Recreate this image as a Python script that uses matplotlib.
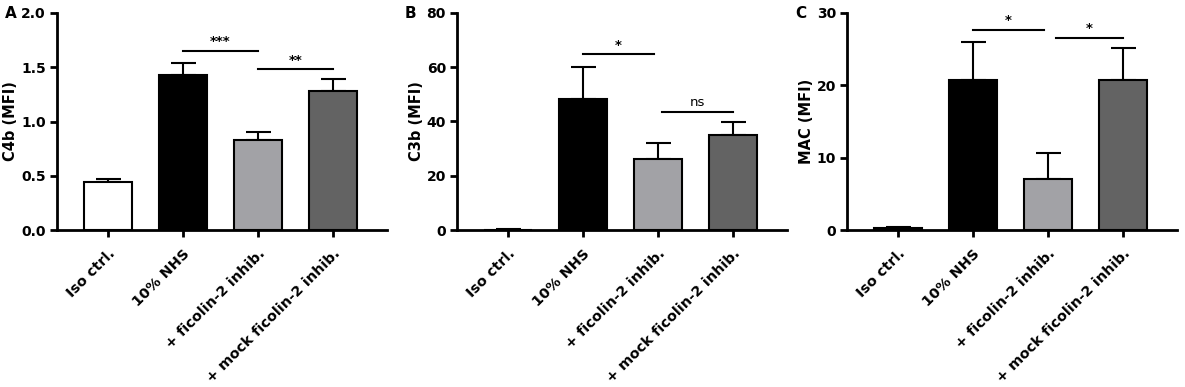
import matplotlib
matplotlib.use("Agg")
import matplotlib.pyplot as plt
import numpy as np

plt.rcParams['font.family'] = ['DejaVu Sans']
plt.rcParams['font.weight'] = 'bold'

categories = ["Iso ctrl.", "10% NHS", "+ ficolin-2 inhib.", "+ mock ficolin-2 inhib."]
bar_colors = ["#ffffff", "#000000", "#a2a2a6", "#636363"]

c4b_mean = [0.44, 1.43, 0.83, 1.28]
c4b_err = [0.03, 0.11, 0.07, 0.11]
c3b_mean = [0.0, 48.2, 26.1, 35.1]
c3b_err = [0.5, 12.0, 6.1, 4.6]
mac_mean = [0.3, 20.8, 7.1, 20.7]
mac_err = [0.05, 5.2, 3.5, 4.5]

panel_letters = ["A", "B", "C"]
ylabels = ["C4b (MFI)", "C3b (MFI)", "MAC (MFI)"]
ylims = [(0, 2.0), (0, 80), (0, 30)]
yticks = [[0.0, 0.5, 1.0, 1.5, 2.0], [0, 20, 40, 60, 80], [0, 10, 20, 30]]
ytick_fmt = ["{:.1f}", "{:.0f}", "{:.0f}"]

# significance annotations: (x_start, x_end, y, label)
sig_A = [(1, 2, 1.65, "***"), (2, 3, 1.48, "**")]
sig_B = [(1, 1.95, 64.8, "*"), (2.05, 3, 43.5, "ns")]
sig_C = [(1, 1.95, 27.7, "*"), (2.1, 3, 26.6, "*")]

means = [c4b_mean, c3b_mean, mac_mean]
errs = [c4b_err, c3b_err, mac_err]
sigs = [sig_A, sig_B, sig_C]

W, H = 1185, 387
fig = plt.figure(figsize=(W / 100, H / 100), dpi=100)

lefts = [57, 457, 847]
ax_w = 330
ax_top = 13
ax_bot = 230

x = np.arange(len(categories))
for i in range(3):
    ax = fig.add_axes([lefts[i] / W, 1 - ax_bot / H, ax_w / W, (ax_bot - ax_top) / H])
    ax.bar(x, means[i], width=0.64, color=bar_colors, edgecolor="black", linewidth=1.5, zorder=3)
    ax.errorbar(x, means[i], yerr=[np.zeros(len(x)), errs[i]], fmt="none", ecolor="black",
                elinewidth=1.5, capsize=9, capthick=1.5, zorder=2)
    ax.set_xlim(-0.68, 3.72)
    ax.set_ylim(*ylims[i])
    ax.set_yticks(yticks[i])
    ax.set_yticklabels([ytick_fmt[i].format(v) for v in yticks[i]], fontsize=10, fontweight="bold")
    ax.set_xticks(x)
    ax.set_xticklabels(categories, rotation=45, ha="right", rotation_mode="anchor",
                       fontsize=10.4, fontweight="bold")
    for s in ["top", "right"]:
        ax.spines[s].set_visible(False)
    for s in ["left", "bottom"]:
        ax.spines[s].set_linewidth(2)
    ax.tick_params(axis="both", width=2, length=5, direction="out")
    ax.tick_params(axis="x", pad=7)
    ax.tick_params(axis="y", pad=3)
    ax.set_ylabel(ylabels[i], fontsize=10.5, fontweight="bold", labelpad=2)
    ax.text(-0.14, 1.0, panel_letters[i], transform=ax.transAxes, fontsize=11,
            fontweight="bold", ha="center", va="center")
    for (x0, x1, yv, lab) in sigs[i]:
        ax.plot([x0, x1], [yv, yv], color="black", linewidth=1.5, clip_on=False)
        ax.text((x0 + x1) / 2, yv + (ylims[i][1] * 0.012), lab, ha="center", va="bottom",
                fontsize=9.5, fontweight="normal" if lab == "ns" else "bold")

fig.savefig("out.png", dpi=100)
